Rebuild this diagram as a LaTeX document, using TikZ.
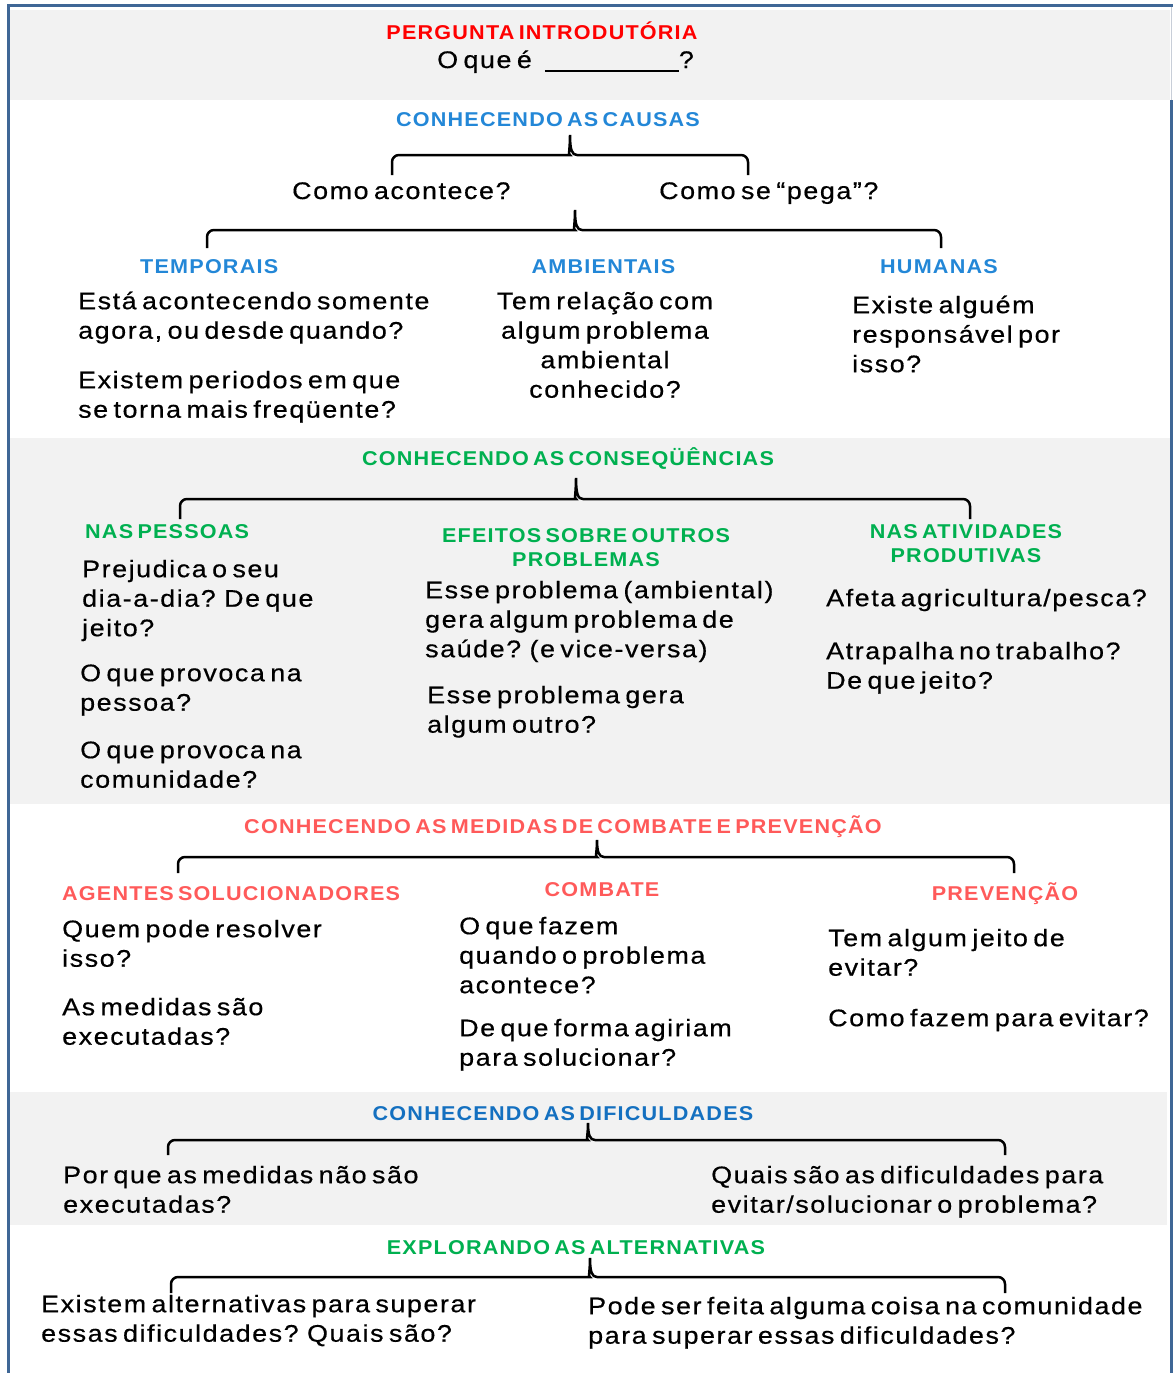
\documentclass[tikz,border=0pt]{standalone}
\usepackage{fontspec}
\setmainfont{Liberation Sans}
\newfontfamily\bodyface[FakeStretch=1.12,LetterSpace=6.5,WordSpace=0.6,FakeBold=0.5]{Liberation Sans}
\newfontfamily\headface[FakeStretch=1.08,LetterSpace=6,WordSpace=0.6]{Liberation Sans}
\newcommand\bodyfont{\bodyface\fontsize{24}{29.5}\selectfont}
\newcommand\headfont{\headface\bfseries\fontsize{20}{24}\selectfont}
\newcommand\bodystrut{\rule{0pt}{24pt}}
\newcommand\headstrut{\rule{0pt}{20pt}}

\definecolor{framec}{RGB}{63,103,150}
\definecolor{panel}{RGB}{242,242,242}
\definecolor{titlered}{RGB}{255,0,0}
\definecolor{causeblue}{RGB}{35,135,215}
\definecolor{diffblue}{RGB}{20,112,192}
\definecolor{consgreen}{RGB}{0,176,80}
\definecolor{measred}{RGB}{255,90,90}

% bracket: name, left x, right x, tip x, tip y, bar y, end y (y measured downwards)
\newcommand\bracketpath[7]{%
  \coordinate (#1-l) at (#2,-#7);
  \coordinate (#1-r) at (#3,-#7);
  \coordinate (#1-t) at (#4,-#5);
  \draw[bracket] (#1-l) [rounded corners=7pt] -- (#2,-#6) -- (#4-7,-#6) [sharp corners]
     .. controls (#4-2,-#6) and (#4,-#6+5) .. (#1-t)
     .. controls (#4,-#6+5) and (#4+2,-#6) .. (#4+7,-#6)
     [rounded corners=7pt] -- (#3,-#6) -- (#1-r);}

\begin{document}
\begin{tikzpicture}[x=1pt,y=1pt,
  bracket/.style={line width=2.5pt, black},
  body/.style={font=\bodyfont, align=left, inner sep=0pt, anchor=north west},
  bodyc/.style={body, align=center, anchor=north},
  bodyline/.style={font=\bodyfont, inner sep=0pt, anchor=base west},
  head/.style={font=\headfont, inner sep=0pt, anchor=base},
  headl/.style={head, anchor=base west},
  headm/.style={font=\headfont, inner sep=0pt, align=center, anchor=north}]

\useasboundingbox (0,0) rectangle (1173,-1373);

% shaded bands
\fill[panel] (10,-10) rectangle (1170,-100);
\fill[panel] (10,-438) rectangle (1170,-804);
\fill[panel] (10,-1092) rectangle (1167,-1225);

% frame
\draw[color={rgb,255:red,200;green,206;blue,216}, line width=1pt] (1171,-7) -- (1171,-100);
\draw[framec, line width=3pt] (8,-1373) -- (8,-5.5) -- (1173,-5.5);
\draw[framec, line width=3pt] (1171.5,-100) -- (1171.5,-1373);

% introduction
\node[head, text=titlered] (intro) at (542,-39) {PERGUNTA INTRODUTÓRIA};
\node[bodyline] (question) at (437,-68) {O que é\hspace{13pt}\rule[-4pt]{134pt}{2pt}?};

% causes
\node[head, text=causeblue] (causas) at (548,-126) {CONHECENDO AS CAUSAS};
\bracketpath{bc1}{392}{748}{570}{135}{155}{175}
\node[bodyline] (como1) at (292,-199) {Como acontece?};
\node[bodyline] (como2) at (659,-199) {Como se “pega”?};
\bracketpath{bc2}{207}{941}{575}{210}{230}{248}

\node[headl, text=causeblue] (temporais) at (140,-273) {TEMPORAIS};
\node[head, text=causeblue] (ambientais) at (603.5,-273) {AMBIENTAIS};
\node[head, text=causeblue] (humanas) at (939,-273) {HUMANAS};

\node[body] (temp1) at (78,-285) {\bodystrut Está acontecendo somente\\agora, ou desde quando?};
\node[body] (temp2) at (78,-364) {\bodystrut Existem periodos em que\\se torna mais freqüente?};
\node[bodyc] (amb) at (605,-285) {\bodystrut Tem relação com\\algum problema\\ambiental\\conhecido?};
\node[body] (hum) at (852,-289) {\bodystrut Existe alguém\\responsável por\\isso?};

% consequences
\node[head, text=consgreen] (cons) at (568,-465) {CONHECENDO AS CONSEQÜÊNCIAS};
\bracketpath{bq}{180}{970}{576}{478}{499}{519}
\node[headl, text=consgreen] (pessoas) at (85,-538) {NAS PESSOAS};
\node[headm, text=consgreen] (efeitos) at (586,-522) {\headstrut EFEITOS SOBRE OUTROS\\PROBLEMAS};
\node[headm, text=consgreen] (atividades) at (966,-518) {\headstrut NAS ATIVIDADES\\PRODUTIVAS};

\node[body] (pes1) at (82,-553) {\bodystrut Prejudica o seu\\dia-a-dia? De que\\jeito?};
\node[body] (pes2) at (80,-657) {\bodystrut O que provoca na\\pessoa?};
\node[body] (pes3) at (80,-734) {\bodystrut O que provoca na\\comunidade?};
\node[body] (efe1) at (425,-574) {\bodystrut Esse problema (ambiental)\\gera algum problema de\\saúde? (e vice-versa)};
\node[body] (efe2) at (427,-679) {\bodystrut Esse problema gera\\algum outro?};
\node[body] (ati1) at (826,-582) {\bodystrut Afeta agricultura/pesca?};
\node[body] (ati2) at (826,-635) {\bodystrut Atrapalha no trabalho?\\De que jeito?};

% measures
\node[head, text=measred] (medidas) at (563,-833) {CONHECENDO AS MEDIDAS DE COMBATE E PREVENÇÃO};
\bracketpath{bm}{178}{1014}{597}{840}{857}{873}
\node[headl, text=measred] (agentes) at (62,-900) {AGENTES SOLUCIONADORES};
\node[head, text=measred] (combate) at (602,-896) {COMBATE};
\node[head, text=measred] (prevencao) at (1005,-900) {PREVENÇÃO};

\node[body] (age1) at (62,-913) {\bodystrut Quem pode resolver\\isso?};
\node[body] (age2) at (62,-991) {\bodystrut As medidas são\\executadas?};
\node[body] (com1) at (459,-910) {\bodystrut O que fazem\\quando o problema\\acontece?};
\node[body] (com2) at (459,-1012) {\bodystrut De que forma agiriam\\para solucionar?};
\node[body] (pre1) at (828,-922) {\bodystrut Tem algum jeito de\\evitar?};
\node[body] (pre2) at (828,-1002) {\bodystrut Como fazem para evitar?};

% difficulties
\node[head, text=diffblue] (dificuldades) at (563,-1120) {CONHECENDO AS DIFICULDADES};
\bracketpath{bd}{168}{1005}{588}{1123}{1140}{1155}
\node[body] (dif1) at (63,-1159) {\bodystrut Por que as medidas não são\\executadas?};
\node[body] (dif2) at (711,-1159) {\bodystrut Quais são as dificuldades para\\evitar/solucionar o problema?};

% alternatives
\node[head, text=consgreen] (alternativas) at (576,-1254) {EXPLORANDO AS ALTERNATIVAS};
\bracketpath{ba}{171}{1005}{590}{1258}{1277}{1293}
\node[body] (alt1) at (41,-1288) {\bodystrut Existem alternativas para superar\\essas dificuldades? Quais são?};
\node[body] (alt2) at (588,-1290) {\bodystrut Pode ser feita alguma coisa na comunidade\\para superar essas dificuldades?};

\end{tikzpicture}
\end{document}
